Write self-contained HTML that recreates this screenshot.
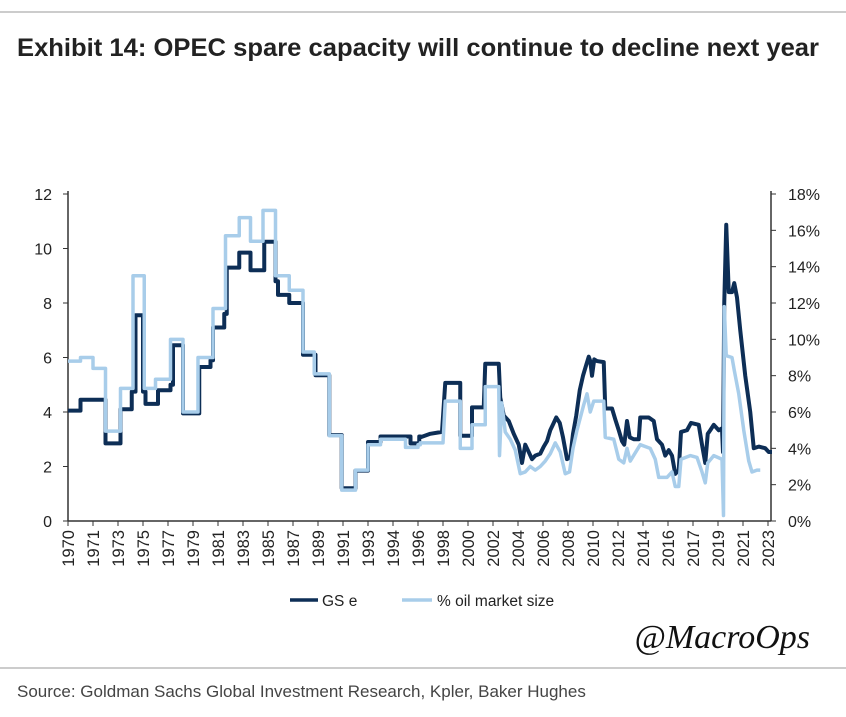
<!DOCTYPE html>
<html><head><meta charset="utf-8"><style>
body{margin:0;background:#fff;}
svg text{font-family:"Liberation Sans",sans-serif;}
</style></head><body>
<svg id="c" width="846" height="712" xmlns="http://www.w3.org/2000/svg">
<line x1="0" y1="12" x2="846" y2="12" stroke="#999" stroke-width="1"/>
<text x="17" y="56" font-size="25" font-weight="bold" fill="#222" textLength="802" lengthAdjust="spacingAndGlyphs">Exhibit 14: OPEC spare capacity will continue to decline next year</text>
<g id="plot"></g>
<g>
<line x1="290" y1="600" x2="318" y2="600" stroke="#0d2e56" stroke-width="3.5"/>
<text x="322" y="606" font-size="15.5" fill="#222">GS e</text>
<line x1="402" y1="600" x2="432" y2="600" stroke="#a8cdea" stroke-width="3.5"/>
<text x="437" y="606" font-size="15.5" fill="#222">% oil market size</text>
</g>
<text x="810" y="648" font-size="34" font-style="italic" text-anchor="end" fill="#111" style="font-family:'Liberation Serif',serif">@MacroOps</text>
<line x1="0" y1="668" x2="846" y2="668" stroke="#999" stroke-width="1"/>
<text x="17" y="697" font-size="17" fill="#444">Source: Goldman Sachs Global Investment Research, Kpler, Baker Hughes</text>
</svg>
<script>
const tickLabels=["1970","1971","1973","1975","1977","1979","1981","1983","1985","1987","1989","1991","1993","1994","1996","1998","2000","2002","2004","2006","2008","2010","2012","2014","2016","2017","2019","2021","2023"];
const leftTicks=[0,2,4,6,8,10,12];
const rightTicks=[0,2,4,6,8,10,12,14,16,18];
const gsStepT=[0,.5,1.5,2.1,2.55,2.7,3.0,3.1,3.6,4.1,4.2,4.6,5.25,5.7,5.8,6.25,6.35,6.85,7.3,7.85,8.3,8.4,8.85,9.4,9.9,10.45,10.95,11.5,12.0,12.5,13.7,14.05];
const gsStepV=[4.05,4.45,2.85,4.1,4.75,7.55,4.75,4.3,4.8,5.0,6.45,3.95,5.65,5.9,7.1,7.6,9.3,9.85,9.2,10.25,8.8,8.3,8.0,6.1,5.35,3.15,1.2,1.85,2.9,3.1,2.85,3.1];
const gsLineT=[14.09,14.49,14.96,15.09,15.69,15.69,16.16,16.16,16.63,16.69,17.23,17.29,17.43,17.63,17.83,18.03,18.16,18.29,18.43,18.56,18.69,18.89,19.03,19.16,19.29,19.43,19.53,19.67,19.8,19.96,20.09,20.2,20.33,20.47,20.6,20.73,20.83,20.89,20.96,21.05,21.16,21.43,21.49,21.76,21.89,22.03,22.16,22.25,22.36,22.47,22.63,22.83,22.89,23.23,23.43,23.56,23.76,23.89,24.03,24.16,24.29,24.43,24.52,24.76,24.92,25.23,25.36,25.49,25.59,25.69,25.83,26.03,26.16,26.2,26.25,26.33,26.43,26.56,26.65,26.76,26.89,27.09,27.29,27.43,27.63,27.89,28.03,28.16];
const gsLineV=[3.07,3.2,3.27,5.07,5.07,3.13,3.13,4.17,4.17,5.77,5.77,4.53,3.87,3.67,3.2,2.8,2.13,2.8,2.53,2.27,2.4,2.47,2.73,2.93,3.33,3.6,3.8,3.6,3.07,2.27,2.33,3.2,3.87,4.8,5.33,5.73,6.03,5.87,5.33,5.93,5.87,5.83,4.13,4.13,3.73,3.33,2.93,2.8,3.67,3.07,3.0,3.0,3.8,3.8,3.67,3.0,2.8,2.4,2.6,2.4,1.73,1.87,3.27,3.33,3.6,3.53,2.8,2.13,3.2,3.33,3.53,3.33,3.4,2.53,8.0,10.87,8.4,8.4,8.73,8.2,7.0,5.33,4.0,2.67,2.73,2.67,2.53,2.53];
const pctStepT=[0,.5,1.0,1.5,2.1,2.6,3.05,3.5,4.1,4.6,5.2,5.8,6.3,6.85,7.3,7.8,8.3,8.85,9.4,9.85,10.45,10.95,11.5,12.0,12.5,13.5,14.0];
const pctStepV=[8.8,9.0,8.4,4.95,7.3,13.5,7.3,7.8,10.0,6.0,9.0,11.7,15.7,16.7,15.4,17.1,13.5,12.7,9.3,8.1,4.7,1.7,2.8,4.2,4.5,4.05,4.2];
const pctLineT=[14.09,15.0,15.09,15.69,15.69,16.16,16.16,16.69,16.69,17.23,17.26,17.35,17.49,17.69,17.89,18.09,18.29,18.49,18.69,18.89,19.09,19.29,19.49,19.69,19.89,20.06,20.2,20.36,20.63,20.76,20.89,21.03,21.43,21.49,21.83,22.03,22.23,22.36,22.49,22.89,23.29,23.49,23.63,23.96,24.16,24.29,24.43,24.52,24.89,25.16,25.36,25.49,25.59,25.83,26.16,26.22,26.25,26.33,26.56,26.65,26.83,27.03,27.23,27.36,27.56,27.69];
const pctLineV=[4.3,4.3,6.6,6.6,4.0,4.0,5.3,5.3,7.4,7.4,3.6,6.5,4.9,4.5,3.9,2.6,2.7,3.0,2.8,3.0,3.3,3.7,4.3,3.8,2.6,2.7,4.0,5.0,6.4,7.0,6.0,6.6,6.6,4.6,4.5,3.4,3.2,4.0,3.3,4.2,4.0,3.4,2.4,2.4,2.7,1.9,1.9,3.4,3.6,3.5,2.7,2.1,3.2,3.6,3.4,0.3,11.8,9.1,9.0,8.3,7.0,5.0,3.3,2.7,2.8,2.8];

const NS="http://www.w3.org/2000/svg";
const X0=68,X1=771,Y0=521,Y1=194,TS=25;
const xs=t=>X0+t*TS;
const yL=v=>Y0-(v/12)*(Y0-Y1);
const yR=v=>Y0-(v/18)*(Y0-Y1);
const g=document.getElementById('plot');
function mk(tag,attrs){const e=document.createElementNS(NS,tag);for(const k in attrs)e.setAttribute(k,attrs[k]);g.appendChild(e);return e;}
let e=mk('line',{x1:X0,y1:Y1-3,x2:X0,y2:Y0,stroke:'#333','stroke-width':1.5});


e=mk('line',{x1:X1,y1:Y1-3,x2:X1,y2:Y0,stroke:'#333','stroke-width':1.5});


e=mk('line',{x1:X0,y1:Y0,x2:X1,y2:Y0,stroke:'#333','stroke-width':1.5});


leftTicks.forEach(v=>{
  mk('line',{x1:X0-5,y1:yL(v),x2:X0,y2:yL(v),stroke:'#333'});
  const t=mk('text',{x:52,y:yL(v)+6,'font-size':16,'text-anchor':'end',fill:'#222'});t.textContent=v;
  
  
});
rightTicks.forEach(v=>{
  mk('line',{x1:X1,y1:yR(v),x2:X1+5,y2:yR(v),stroke:'#333'});
  const t=mk('text',{x:788,y:yR(v)+6,'font-size':16,fill:'#222'});t.textContent=v+'%';
  
  
});
tickLabels.forEach((l,i)=>{
  const x=xs(i);
  mk('line',{x1:x,y1:Y0,x2:x,y2:Y0+5,stroke:'#333'});
  const t=mk('text',{x:x+6,y:Y0+9,'font-size':16.5,'text-anchor':'end',fill:'#222',transform:`rotate(-90 ${x+6} ${Y0+9})`});t.textContent=l;
  
  
});
function pathFor(sT,sV,lT,lV,yf){
  let d='';
  sT.forEach((t,i)=>{d+=(i?'L':'M')+xs(t)+','+yf(sV[i]);const n=i+1<sT.length?sT[i+1]:lT[0];d+='L'+xs(n)+','+yf(sV[i]);});
  lT.forEach((t,i)=>{d+='L'+xs(t)+','+yf(lV[i]);});
  return d;
}
e=mk('path',{d:pathFor(gsStepT,gsStepV,gsLineT,gsLineV,yL),fill:'none',stroke:'#0d2e56','stroke-width':4,'stroke-linejoin':'round'});


e=mk('path',{d:pathFor(pctStepT,pctStepV,pctLineT,pctLineV,yR),fill:'none',stroke:'#a8cdea','stroke-width':3.5,'stroke-linejoin':'round'});


</script>
</body></html>
